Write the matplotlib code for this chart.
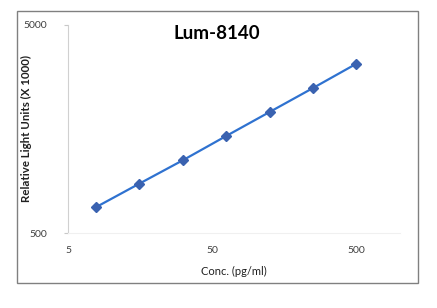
import matplotlib
matplotlib.use('Agg')
import matplotlib.pyplot as plt
from matplotlib.patches import Rectangle
from matplotlib.ticker import FixedLocator, FixedFormatter, NullLocator

# standard curve values
conc = [7.8, 15.6, 31.25, 62.5, 125, 250, 500]
rlu = [665, 863, 1118, 1463, 1908, 2488, 3256]
x_ticks = [5, 50, 500]
y_ticks = [500, 5000]

plt.rcParams['font.family'] = ['Lato', 'DejaVu Sans']

fig = plt.figure(figsize=(4.37, 3.08), dpi=100)
fig.patches.append(Rectangle((0.039, 0.081), 0.9175, 0.883, transform=fig.transFigure,
                             fill=False, edgecolor='#808080', linewidth=1.0))

ax = fig.add_axes([0.1556, 0.2435, 0.7594, 0.6755])
ax.plot(conc, rlu, color='#2f72d0', linewidth=1.6, marker='D', markersize=5,
        markerfacecolor='#3a62b0', markeredgecolor='#3a62b0')

ax.set_xscale('log')
ax.set_yscale('log')
ax.set_xlim(5, 1000)
ax.set_ylim(500, 5000)

ax.xaxis.set_major_locator(FixedLocator(x_ticks))
ax.xaxis.set_major_formatter(FixedFormatter([str(t) for t in x_ticks]))
ax.xaxis.set_minor_locator(NullLocator())
ax.yaxis.set_major_locator(FixedLocator(y_ticks))
ax.yaxis.set_major_formatter(FixedFormatter([str(t) for t in y_ticks]))
ax.yaxis.set_minor_locator(NullLocator())

for side in ['top', 'right']:
    ax.spines[side].set_visible(False)
ax.spines['bottom'].set_color('#f0f0f0')
ax.spines['bottom'].set_linewidth(0.8)
ax.spines['left'].set_color('#d0d0d0')
ax.spines['left'].set_linewidth(0.8)

ax.tick_params(axis='y', length=3, color='#c8c8c8', labelsize=7.5, labelcolor='#404040', pad=12)
ax.tick_params(axis='x', length=0, labelsize=7.5, labelcolor='#404040', pad=9)

ax.set_xlabel('Conc. (pg/ml)', fontsize=8, color='#202020', labelpad=8)
ax.set_ylabel('Relative Light Units (X 1000)', fontsize=8.3, fontweight='bold',
              color='#202020')
ax.yaxis.set_label_coords(-0.108, 0.5)

fig.text(0.497, 0.89, 'Lum-8140', fontsize=13.5, fontweight='bold', ha='center', va='center')

fig.savefig('out.png', dpi=100)
